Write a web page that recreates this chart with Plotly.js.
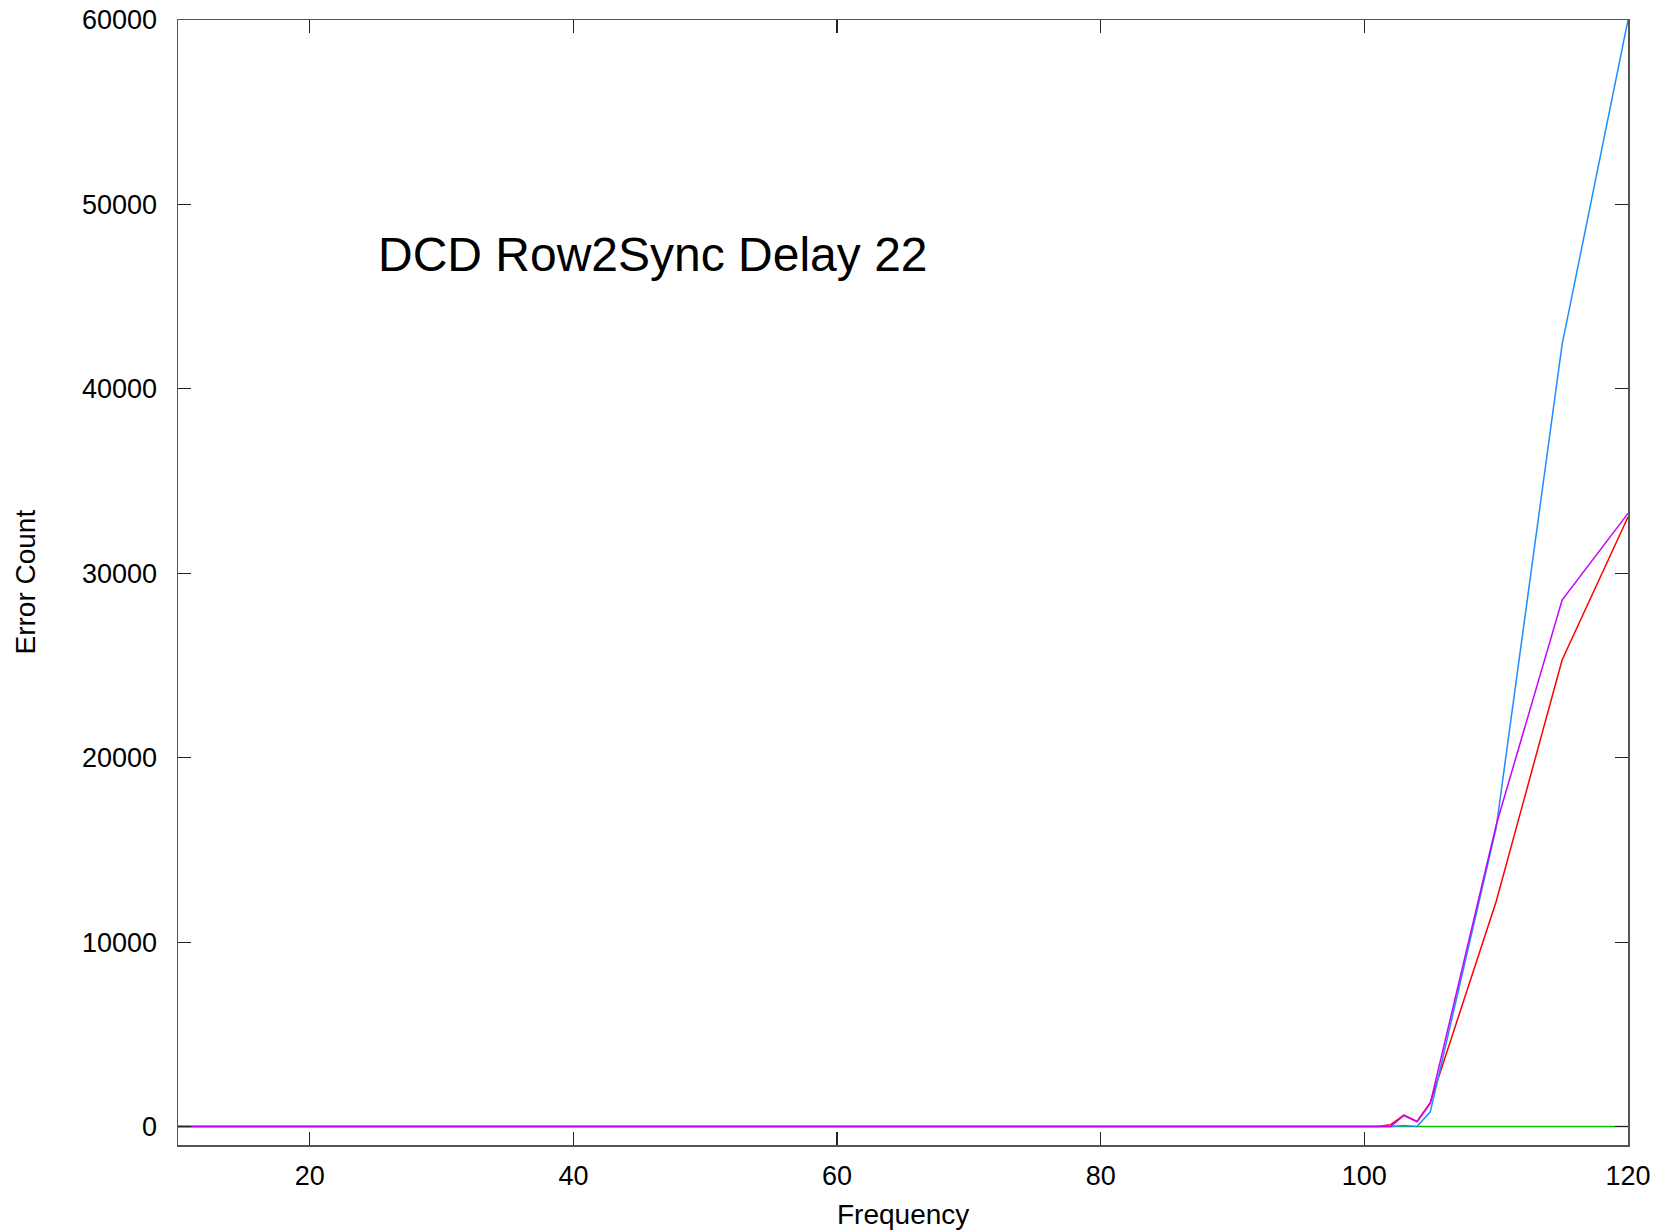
<!DOCTYPE html>
<html>
<head>
<meta charset="utf-8">
<script src="https://cdn.plot.ly/plotly-3.0.1.min.js"></script>
<style>html,body{margin:0;padding:0;background:#fff;}#chart{width:1661px;height:1232px;}</style>
</head>
<body>
<div id="chart"></div>
<script>
// Frequency values
const frequency = [10, 15, 20, 25, 30, 35, 40, 45, 50, 55, 60, 65, 70, 75, 80, 85, 90, 95, 100, 101, 102, 103, 104, 105, 110, 115, 120];
// Error counts per series
const seriesRed     = [0, 0, 0, 0, 0, 0, 0, 0, 0, 0, 0, 0, 0, 0, 0, 0, 0, 0, 0, 0, 100, 620, 280, 1300, 12200, 25300, 33050];
const seriesGreen   = [0, 0, 0, 0, 0, 0, 0, 0, 0, 0, 0, 0, 0, 0, 0, 0, 0, 0, 0, 0, 0, 0, 0, 0, 0, 0, 0];
const seriesBlue    = [0, 0, 0, 0, 0, 0, 0, 0, 0, 0, 0, 0, 0, 0, 0, 0, 0, 0, 0, 0, 0, 60, 0, 800, 16200, 42400, 60000];
const seriesMagenta = [0, 0, 0, 0, 0, 0, 0, 0, 0, 0, 0, 0, 0, 0, 0, 0, 0, 0, 0, 0, 0, 600, 260, 1250, 16350, 28550, 33250];

const chartLabel = "DCD Row2Sync Delay 22";
const xTitle = "Frequency";
const yTitle = "Error Count";

const font = "Liberation Sans, Arial, Helvetica, sans-serif";

const mk = (y, color) => ({
  x: frequency, y: y, type: 'scatter', mode: 'lines',
  line: {color: color, width: 1.5}, showlegend: false, hoverinfo: 'skip'
});

const data = [
  mk(seriesRed, '#ff0000'),
  mk(seriesGreen, '#00c800'),
  mk(seriesBlue, '#1e8cff'),
  mk(seriesMagenta, '#c800ff')
];

const axisCommon = {
  showgrid: false, zeroline: false, showline: true, linecolor: '#555555', linewidth: 1.5,
  mirror: 'ticks', ticks: 'inside', ticklen: 13, tickwidth: 1.2, tickcolor: '#222222',
  tickfont: {family: font, size: 27, color: '#000'}, tickformat: 'd'
};

const layout = {
  width: 1661, height: 1232,
  margin: {l: 178, r: 33, t: 20, b: 87},
  paper_bgcolor: '#fff', plot_bgcolor: '#fff',
  xaxis: Object.assign({}, axisCommon, {range: [10, 120], tick0: 0, dtick: 20, ticklabelstandoff: 6}),
  yaxis: Object.assign({}, axisCommon, {range: [-1000, 60000], tick0: 0, dtick: 10000, ticklabelstandoff: 14}),
  annotations: [
    {text: chartLabel, xref: 'x', yref: 'y', x: 25, y: 47300, xanchor: 'left', yanchor: 'middle',
     showarrow: false, font: {family: font, size: 48, color: '#000'}},
    {text: xTitle, xref: 'paper', yref: 'paper', x: 0.5, y: 0, xanchor: 'center', yanchor: 'middle',
     yshift: -69, showarrow: false, font: {family: font, size: 28, color: '#000'}},
    {text: yTitle, xref: 'paper', yref: 'paper', x: 0, y: 0.5, xanchor: 'center', yanchor: 'middle',
     xshift: -153, textangle: -90, showarrow: false, font: {family: font, size: 28, color: '#000'}}
  ]
};

Plotly.newPlot('chart', data, layout, {staticPlot: true, displayModeBar: false});
</script>
</body>
</html>
